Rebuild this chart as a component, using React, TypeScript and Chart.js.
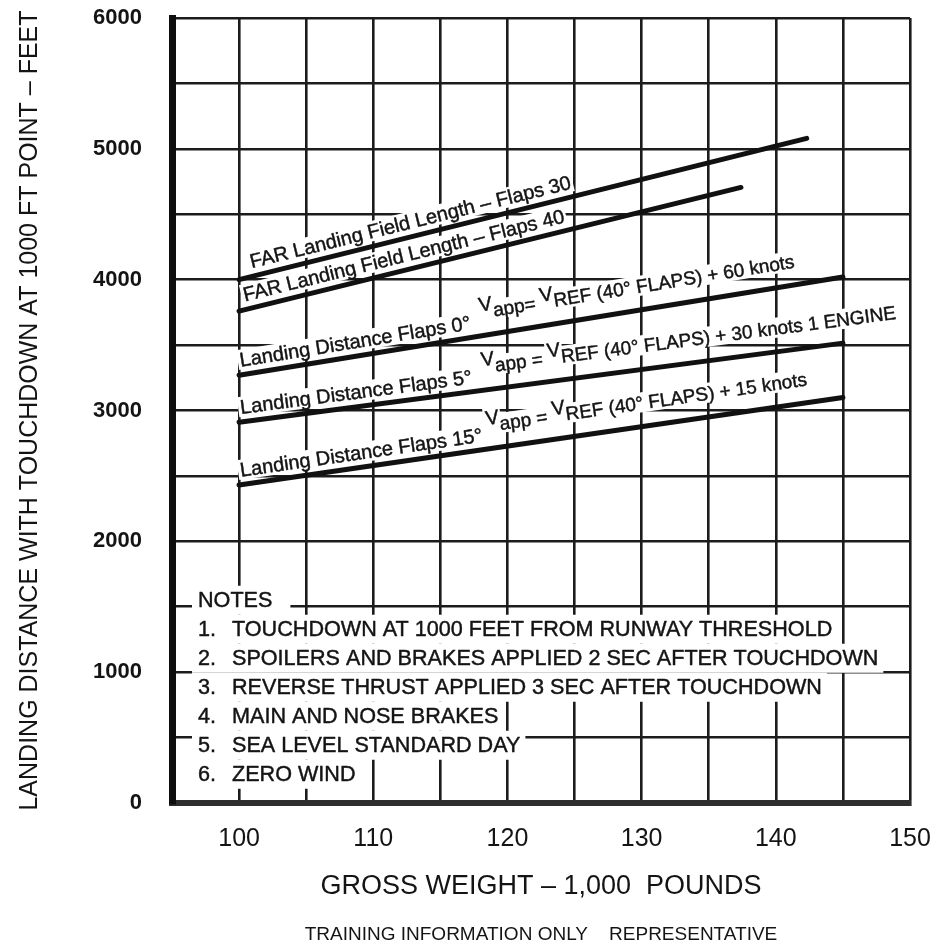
import React, { useEffect, useRef } from 'react';
import { Chart, registerables } from 'chart.js';

Chart.register(...registerables);

// ---------- data ----------
const xTickLabels = ['100', '110', '120', '130', '140', '150'];
const yTickLabels = ['0', '1000', '2000', '3000', '4000', '5000', '6000'];

const far30Weight = [100, 142.3];
const far30Distance = [4000, 5080];
const far40Weight = [100, 137.4];
const far40Distance = [3760, 4705];
const flaps0Weight = [100, 145];
const flaps0Distance = [3270, 4020];
const flaps5Weight = [100, 145];
const flaps5Distance = [2910, 3515];
const flaps15Weight = [100, 145];
const flaps15Distance = [2430, 3100];

const curveNames = [
  'FAR Landing Field Length - Flaps 30',
  'FAR Landing Field Length - Flaps 40',
  'Landing Distance Flaps 0',
  'Landing Distance Flaps 5',
  'Landing Distance Flaps 15',
];

// label text pieces: 'm' = main text, 'v' = raised V, 's' = subscript run
const curveLabelParts = [
  [{ t: 'FAR Landing Field Length – Flaps 30', r: 'm' }],
  [{ t: 'FAR Landing Field Length – Flaps 40', r: 'm' }],
  [
    { t: 'Landing Distance Flaps 0°  ', r: 'm' },
    { t: 'V', r: 'v' },
    { t: 'app= ', r: 's' },
    { t: 'V', r: 'v' },
    { t: 'REF (40° FLAPS) + 60 knots', r: 's' },
  ],
  [
    { t: 'Landing Distance Flaps 5°  ', r: 'm' },
    { t: 'V', r: 'v' },
    { t: 'app = ', r: 's' },
    { t: 'V', r: 'v' },
    { t: 'REF (40° FLAPS) + 30 knots 1 ENGINE', r: 's' },
  ],
  [
    { t: 'Landing Distance Flaps 15° ', r: 'm' },
    { t: 'V', r: 'v' },
    { t: 'app = ', r: 's' },
    { t: 'V', r: 'v' },
    { t: 'REF (40° FLAPS) + 15 knots', r: 's' },
  ],
];

const noteHeading = 'NOTES';
const noteNumbers = ['1.', '2.', '3.', '4.', '5.', '6.'];
const noteLines = [
  'TOUCHDOWN AT 1000 FEET FROM RUNWAY THRESHOLD',
  'SPOILERS AND BRAKES APPLIED 2 SEC AFTER TOUCHDOWN',
  'REVERSE THRUST APPLIED 3 SEC AFTER TOUCHDOWN',
  'MAIN AND NOSE BRAKES',
  'SEA LEVEL STANDARD DAY',
  'ZERO WIND',
];
const notesAnchorDistance = 1500;

const yAxisTitle = 'LANDING DISTANCE WITH TOUCHDOWN AT 1000 FT POINT – FEET';
const xAxisTitle = 'GROSS WEIGHT – 1,000  POUNDS';
const footerText = 'TRAINING INFORMATION ONLY    REPRESENTATIVE';

// ---------- styling ----------
const FONT = "'Liberation Sans', Arial, Helvetica, sans-serif";
const INK = '#141414';
const GRID = '#1c1c1c';

const toPoints = (xs: number[], ys: number[]) => xs.map((x, i) => ({ x, y: ys[i] }));

const series = [
  toPoints(far30Weight, far30Distance),
  toPoints(far40Weight, far40Distance),
  toPoints(flaps0Weight, flaps0Distance),
  toPoints(flaps5Weight, flaps5Distance),
  toPoints(flaps15Weight, flaps15Distance),
];

const labelInset = [15, 8, 3, 3, 3];
const lifts: Record<string, number> = { m: 0, v: -16, s: -9 };
const partFont: Record<string, string> = {
  m: `20px ${FONT}`,
  v: `20px ${FONT}`,
  s: `19px ${FONT}`,
};

const drawInk = (ctx: CanvasRenderingContext2D, t: string, x: number, y: number) => {
  ctx.fillText(t, x, y);
  ctx.strokeText(t, x, y);
};

const annotationPlugin = {
  id: 'annotations',
  beforeDatasetsDraw(chart: any) {
    const ctx: CanvasRenderingContext2D = chart.ctx;
    const xs = chart.scales.x;
    const ys = chart.scales.y;
    ctx.save();
    ctx.strokeStyle = INK;
    ctx.lineWidth = 0.45;
    ctx.lineJoin = 'round';

    // curve labels
    ctx.textBaseline = 'alphabetic';
    ctx.textAlign = 'left';
    chart.data.datasets.forEach((ds: any, i: number) => {
      const d = ds.data;
      const p0 = { x: xs.getPixelForValue(d[0].x), y: ys.getPixelForValue(d[0].y) };
      const p1 = {
        x: xs.getPixelForValue(d[d.length - 1].x),
        y: ys.getPixelForValue(d[d.length - 1].y),
      };
      const ang = Math.atan2(p1.y - p0.y, p1.x - p0.x);
      ctx.save();
      ctx.translate(p0.x, p0.y);
      ctx.rotate(ang);
      const base = -8;
      let cx = labelInset[i];
      const items = curveLabelParts[i].map((p) => {
        ctx.font = partFont[p.r];
        const w = ctx.measureText(p.t).width;
        const it = { t: p.t, r: p.r, x: cx, w, y: base + lifts[p.r] };
        cx += w;
        return it;
      });
      ctx.fillStyle = '#ffffff';
      items.forEach((it) => ctx.fillRect(it.x - 2, it.y - 17, it.w + 4, 20));
      ctx.fillStyle = INK;
      items.forEach((it) => {
        ctx.font = partFont[it.r];
        drawInk(ctx, it.t, it.x, it.y);
      });
      ctx.restore();
    });

    // notes block
    const left = chart.chartArea.left;
    const x0 = left + 26;
    const textX = x0 + 34;
    const headBase = ys.getPixelForValue(notesAnchorDistance);
    const step = 29;
    ctx.font = `21.6px ${FONT}`;
    ctx.fillStyle = '#ffffff';
    const hw = ctx.measureText(noteHeading).width;
    ctx.fillRect(left + 20, headBase - 21, x0 + hw + 18 - (left + 20), step);
    noteLines.forEach((line, i) => {
      const b = headBase + step * (i + 1);
      const w = ctx.measureText(line).width;
      ctx.fillRect(left + 20, b - 21, textX + w + 5 - (left + 20), step);
    });
    ctx.fillStyle = INK;
    drawInk(ctx, noteHeading, x0, headBase);
    noteLines.forEach((line, i) => {
      const b = headBase + step * (i + 1);
      drawInk(ctx, noteNumbers[i], x0, b);
      drawInk(ctx, line, textX, b);
    });

    ctx.restore();
  },
};

export default function App() {
  const ref = useRef<HTMLCanvasElement | null>(null);

  useEffect(() => {
    if (!ref.current) return;
    Chart.defaults.font.family = FONT;
    Chart.defaults.color = INK;
    const chart = new Chart(ref.current, {
      type: 'line',
      data: {
        datasets: series.map((pts, i) => ({
          label: curveNames[i],
          data: pts,
          borderColor: '#111111',
          borderWidth: 5,
          borderCapStyle: 'round',
          pointRadius: 0,
          fill: false,
          tension: 0,
        })),
      },
      options: {
        responsive: false,
        animation: false,
        layout: { padding: { top: 18, right: 30, left: 0, bottom: 0 } },
        plugins: {
          legend: { display: false },
          tooltip: { enabled: false },
          subtitle: {
            display: true,
            position: 'bottom',
            fullSize: false,
            text: footerText,
            color: INK,
            font: { size: 19, family: FONT },
            padding: { top: 6, bottom: 1 },
          },
        },
        scales: {
          x: {
            type: 'linear',
            min: 95,
            max: 150,
            ticks: {
              stepSize: 5,
              autoSkip: false,
              maxRotation: 0,
              minRotation: 0,
              padding: 21,
              color: INK,
              font: { size: 25 },
              callback: (v: any) => {
                const n = Number(v);
                return n >= 100 && n % 10 === 0 ? xTickLabels[(n - 100) / 10] : '';
              },
            },
            grid: {
              drawTicks: false,
              lineWidth: 2.6,
              color: (c: any) => (c.tick && c.tick.value === 95 ? 'rgba(0,0,0,0)' : GRID),
            },
            border: { display: true, width: 6, color: '#2e2e2e' },
            title: {
              display: true,
              text: xAxisTitle,
              color: INK,
              font: { size: 27 },
              padding: { top: 0, bottom: 14 },
            },
            afterFit: (s: any) => {
              s.height = 114.2;
              s.paddingLeft = 0;
              s.paddingRight = 0;
            },
          },
          y: {
            type: 'linear',
            min: 0,
            max: 6000,
            ticks: {
              stepSize: 500,
              autoSkip: false,
              padding: 30,
              color: INK,
              font: { size: 22, weight: 'bold' },
              callback: (v: any) => {
                const n = Number(v);
                return n % 1000 === 0 ? yTickLabels[n / 1000] : '';
              },
            },
            grid: {
              drawTicks: false,
              lineWidth: 2.6,
              color: (c: any) => (c.tick && c.tick.value === 0 ? 'rgba(0,0,0,0)' : GRID),
            },
            border: { display: true, width: 7, color: '#0e0e0e' },
            title: {
              display: true,
              text: yAxisTitle,
              color: INK,
              font: { size: 25 },
              padding: { top: 15, bottom: 0 },
            },
            afterFit: (s: any) => {
              s.width = 172;
              s.paddingTop = 0;
              s.paddingBottom = 0;
            },
          },
        },
      },
      plugins: [annotationPlugin],
    } as any);
    return () => chart.destroy();
  }, []);

  return (
    <div style={{ position: 'absolute', left: 0, top: 0, width: 940, height: 947, background: '#fff' }}>
      <canvas ref={ref} width={940} height={947} style={{ display: 'block' }} />
    </div>
  );
}
